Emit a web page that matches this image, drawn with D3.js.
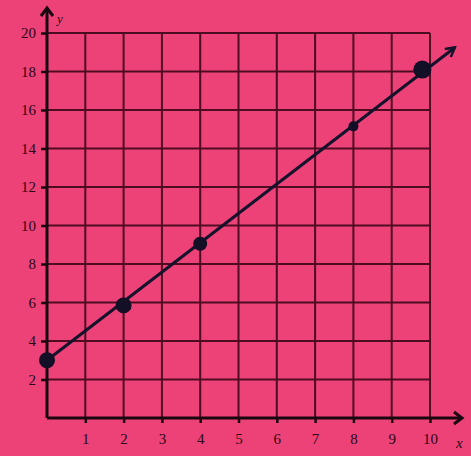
<!DOCTYPE html>
<meta charset="utf-8">
<style>
    body { margin: 0; background: #ec4278; }
    .tick text { font-family: "Liberation Serif", serif; font-size: 15px; fill: #2c0814; }
</style>
<body>
<svg width="471" height="456"></svg>
<script src="https://d3js.org/d3.v7.min.js"></script>
<script>
    var xTicks = [1, 2, 3, 4, 5, 6, 7, 8, 9, 10];
    var yTicks = [2, 4, 6, 8, 10, 12, 14, 16, 18, 20];
    var pointX = [0, 2, 4, 8, 9.8];
    var pointY = [3, 5.85, 9.05, 15.15, 18.1];
    var pointR = [8, 8, 7, 5, 9];
    var lineX = [0, 10.65];
    var lineY = [3, 19.25];

    var svg = d3.select("svg");
    var gridColor = "#4e0c22", inkColor = "#15122c";

    var x = d3.scaleLinear().domain([0, 10]).range([47, 430]),
        y = d3.scaleLinear().domain([0, 20]).range([418, 33]);

    svg.append("rect").attr("width", 471).attr("height", 456).attr("fill", "#ec4278");

    // grid
    var grid = svg.append("g").attr("stroke", gridColor).attr("stroke-width", 2);
    grid.selectAll(".vx").data(xTicks).enter().append("line")
        .attr("x1", function (d) { return x(d); }).attr("x2", function (d) { return x(d); })
        .attr("y1", y(0)).attr("y2", y(20));
    grid.selectAll(".hy").data(yTicks).enter().append("line")
        .attr("x1", x(0)).attr("x2", x(10))
        .attr("y1", function (d) { return y(d); }).attr("y2", function (d) { return y(d); });

    // axes
    var ax = svg.append("g").attr("stroke", "#1a0710").attr("stroke-width", 3).attr("fill", "none");
    ax.append("line").attr("x1", x(0)).attr("x2", 462).attr("y1", y(0)).attr("y2", y(0));
    ax.append("path").attr("d", "M454," + (y(0) - 6) + "L462," + y(0) + "L454," + (y(0) + 6));
    ax.append("line").attr("x1", x(0)).attr("x2", x(0)).attr("y1", y(0)).attr("y2", 8);
    ax.append("path").attr("d", "M" + (x(0) - 6) + ",16L" + x(0) + ",8L" + (x(0) + 6) + ",16");

    var gx = svg.append("g")
        .attr("transform", "translate(0," + y(0) + ")")
        .call(d3.axisBottom(x).tickValues(xTicks).tickSize(5).tickPadding(10).tickFormat(d3.format("d")));
    gx.select(".domain").remove();
    gx.selectAll("line").attr("stroke", "#1a0710").attr("stroke-width", 2.5);

    var gy = svg.append("g")
        .attr("transform", "translate(" + x(0) + ",0)")
        .call(d3.axisLeft(y).tickValues(yTicks).tickSize(6).tickPadding(5).tickFormat(d3.format("d")));
    gy.select(".domain").remove();
    gy.selectAll("line").attr("stroke", "#1a0710").attr("stroke-width", 2.5);

    svg.append("text").attr("x", 456).attr("y", 448)
        .style("font-family", "Liberation Serif, serif").style("font-style", "italic")
        .style("font-size", "15px").attr("fill", "#2c0814").text("x");
    svg.append("text").attr("x", 57).attr("y", 23)
        .style("font-family", "Liberation Serif, serif").style("font-style", "italic")
        .style("font-size", "13px").attr("fill", "#2c0814").text("y");

    // line with arrow
    svg.append("defs").append("marker")
        .attr("id", "arr").attr("viewBox", "0 0 12 12").attr("refX", 10).attr("refY", 6)
        .attr("markerWidth", 12).attr("markerHeight", 12).attr("markerUnits", "userSpaceOnUse")
        .attr("orient", "auto")
        .append("path").attr("d", "M1,1L10,6L1,11").attr("fill", "none")
        .attr("stroke", inkColor).attr("stroke-width", 2.5);

    svg.append("line")
        .attr("x1", x(lineX[0])).attr("y1", y(lineY[0]))
        .attr("x2", x(lineX[1])).attr("y2", y(lineY[1]))
        .attr("stroke", inkColor).attr("stroke-width", 3)
        .attr("marker-end", "url(#arr)");

    svg.selectAll(".pt").data(pointX).enter().append("circle")
        .attr("cx", function (d) { return x(d); })
        .attr("cy", function (d, i) { return y(pointY[i]); })
        .attr("r", function (d, i) { return pointR[i]; })
        .attr("fill", "#120f26");
</script>
</body>
